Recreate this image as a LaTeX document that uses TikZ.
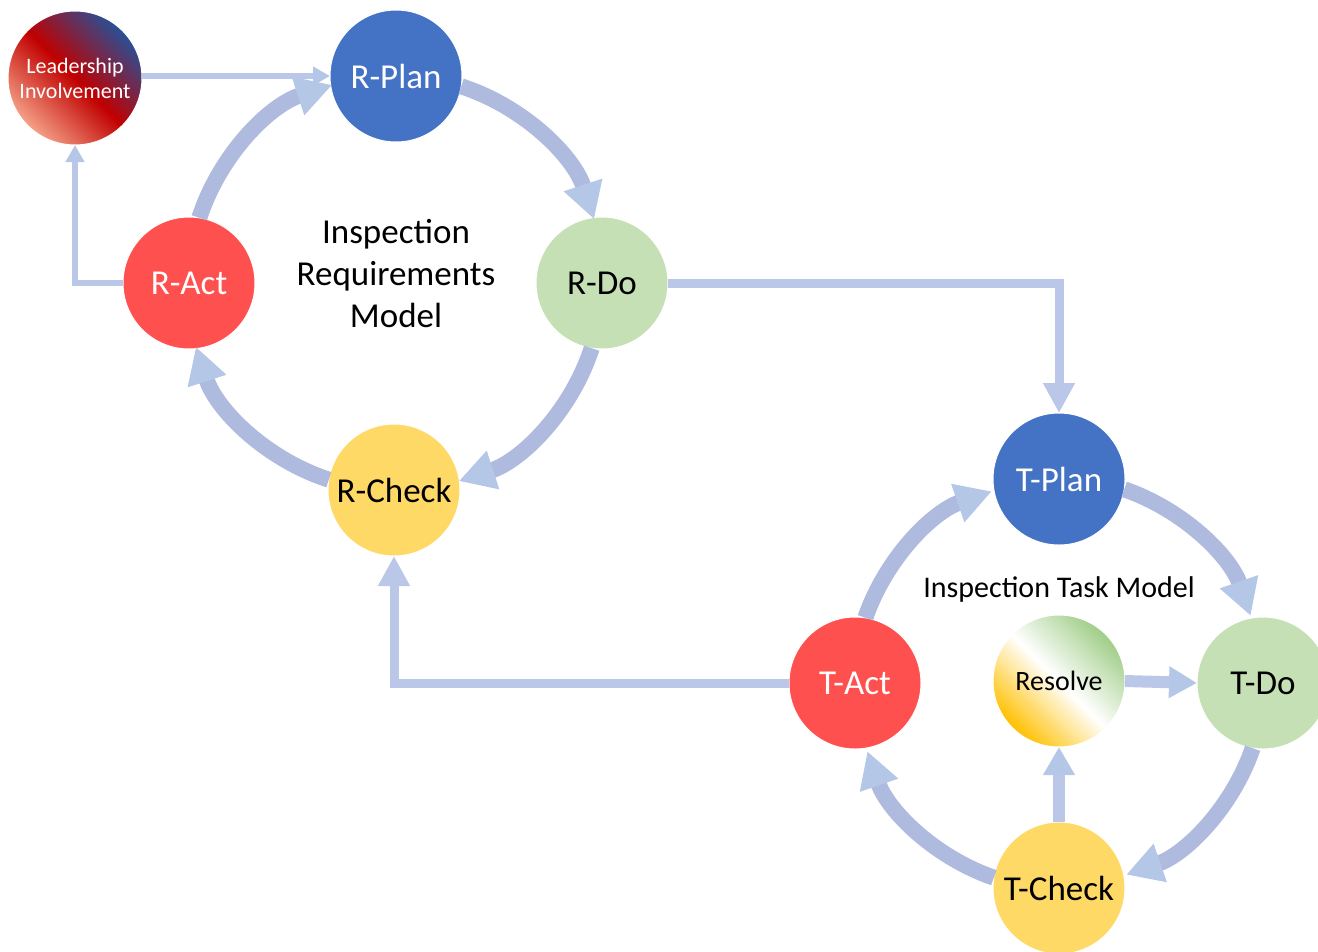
\documentclass[tikz,border=0pt]{standalone}
\usepackage{fontspec}
\setmainfont{Carlito}
\usepackage{tikz}
\usetikzlibrary{arrows.meta,shapes}
\definecolor{planblue}{RGB}{68,114,196}
\definecolor{dogreen}{RGB}{197,224,180}
\definecolor{checkyellow}{RGB}{255,217,102}
\definecolor{actred}{RGB}{255,80,80}
\definecolor{arcblue}{RGB}{174,187,222}
\definecolor{tipblue}{RGB}{180,199,231}
\definecolor{linkblue}{RGB}{187,199,232}
\definecolor{leadblue}{RGB}{40,80,150}
\definecolor{leadred}{RGB}{192,0,0}
\definecolor{leadsalmon}{RGB}{245,160,135}
\definecolor{resgreen}{RGB}{160,205,135}
\definecolor{resyellow}{RGB}{255,192,0}
\tikzstyle{vertex}=[circle, draw=white
%,fill=black!25
,line width=1pt
,minimum size=132pt
,inner sep=0pt
,outer sep=0pt
,font=\fontsize{35}{42}\selectfont
]
\tikzstyle{plan vertex} = [vertex, fill=planblue, text=white]
\tikzstyle{do vertex} = [vertex, fill=dogreen]
\tikzstyle{check vertex} = [vertex, fill=checkyellow]
\tikzstyle{act vertex} = [vertex, fill=actred, text=white]
\tikzstyle{lead vertex} = [vertex, minimum size=134pt, align=center, text=white
,top color=leadblue, bottom color=leadsalmon, middle color=leadred, shading angle=-45
,font=\fontsize{22}{25}\selectfont]
\tikzstyle{resolve vertex} = [vertex, top color=resgreen, bottom color=resyellow
,middle color=white, shading angle=-45, font=\fontsize{28}{32}\selectfont]
\tikzstyle{model label} = [align=center, font=\fontsize{35}{42}\selectfont]
\tikzstyle{cycle edge} = [draw=arcblue, line width=16pt
,-{Triangle[width=38pt,length=36pt,color=tipblue]}]
\tikzstyle{link edge} = [draw=linkblue, line width=9pt
,-{Triangle[width=30pt,length=30pt,color=linkblue]}]
\tikzstyle{resolve edge} = [draw=linkblue, line width=12pt
,-{Triangle[width=30pt,length=28pt,color=tipblue]}]
\tikzstyle{lead edge} = [draw=linkblue, line width=6pt
,-{Triangle[width=18pt,length=17pt,color=tipblue]}]

\begin{document}
\begin{tikzpicture}[x=1pt,y=1pt]
    \useasboundingbox (0,0) rectangle (1318,-951);
    \clip (0,0) rectangle (1318,-951);
    % Draw the two PDCA cycles
    % First we draw the vertices
    \foreach \pos/\name/\txt in {{(396,-76)/RPlan/R-Plan}, {(1059,-479)/TPlan/T-Plan}}
        \node[plan vertex] (\name) at \pos {\txt};

    \foreach \pos/\name/\txt in {{(602,-283)/RDo/R-Do}, {(1263,-683)/TDo/T-Do}}
        \node[do vertex] (\name) at \pos {\txt};

    \foreach \pos/\name/\txt in {{(394,-490)/RCheck/R-Check}, {(1059,-888)/TCheck/T-Check}}
        \node[check vertex] (\name) at \pos {\txt};

    \foreach \pos/\name/\txt in {{(189,-283)/RAct/R-Act}, {(855,-683)/TAct/T-Act}}
        \node[act vertex] (\name) at \pos {\txt};

    \node[lead vertex] (Lead) at (75,-78) {Leadership\\Involvement};
    \node[resolve vertex] (Resolve) at (1059,-681) {Resolve};

    % the model names
    \node[model label] (RModel) at (396,-274) {Inspection\\Requirements\\Model};
    \node[model label, font=\fontsize{30}{36}\selectfont] (TModel) at (1059,-589) {Inspection Task Model};

    % Connect vertices round each cycle
    \foreach \source/\anc/\start in {RPlan/-9/72, RDo/-99/-18, RCheck/171/-108, RAct/81/162}
        \path[cycle edge] (\source.\anc) arc[start angle=\start, delta angle=-54, radius=207];

    \foreach \source/\anc/\start in {TPlan/-9/71, TDo/-99/-19, TCheck/171/-109, TAct/81/161}
        \path[cycle edge] (\source.\anc) arc[start angle=\start, delta angle=-52, radius=204];

    % Connect the two models
    \path[link edge] (RDo.east) -| (TPlan.north);
    \path[link edge] (TAct.west) -| (RCheck.south);
    \path[lead edge] (Lead.east |- RPlan.west) -- (RPlan.west);
    \path[lead edge] (RAct.west) -| (Lead.south);
    \path[resolve edge] (Resolve.east) -- (TDo.west);
    \path[resolve edge] (TCheck.north) -- (Resolve.south);

\end{tikzpicture}
\end{document}
